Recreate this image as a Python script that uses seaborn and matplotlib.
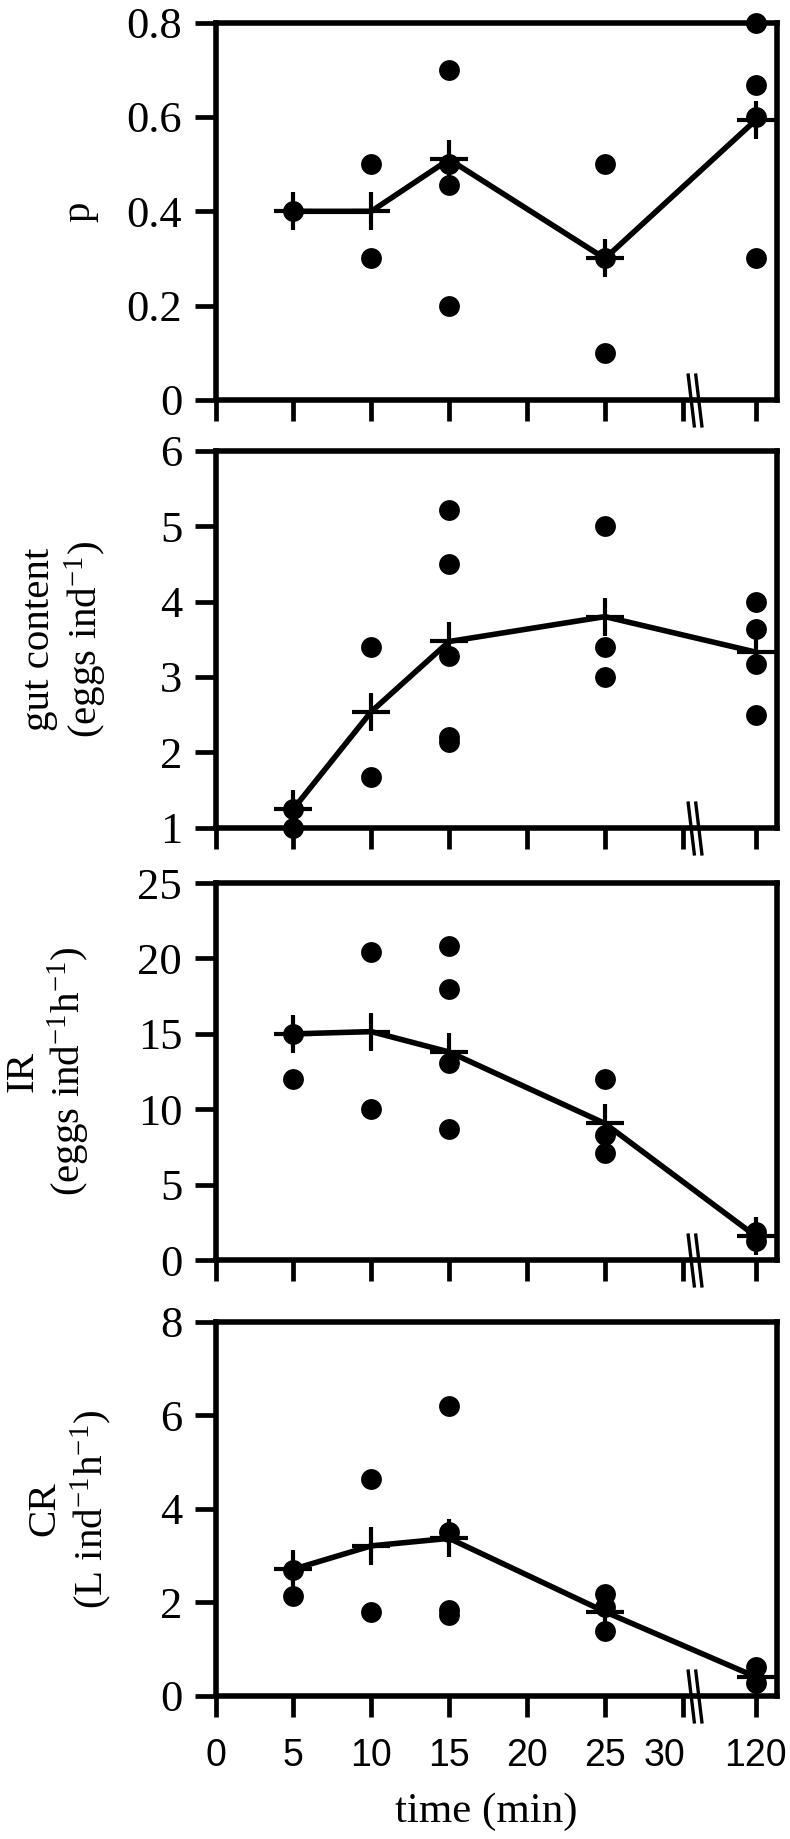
import numpy as np
import pandas as pd
import matplotlib
matplotlib.use("Agg")
import matplotlib.pyplot as plt
import matplotlib.transforms as mtransforms
from matplotlib import font_manager
from matplotlib.path import Path
from matplotlib.markers import MarkerStyle
import seaborn as sns

# ---------------- data ----------------
times = [5, 10, 15, 25, 120]

p_points = [[0.40], [0.50, 0.30], [0.70, 0.50, 0.455, 0.20],
            [0.50, 0.30, 0.10], [0.80, 0.667, 0.60, 0.30]]
p_means = [0.40, 0.40, 0.51, 0.30, 0.593]

gut_points = [[1.25, 1.00], [3.40, 1.67], [5.21, 4.50, 3.28, 2.21, 2.14],
              [5.00, 3.40, 3.00], [4.00, 3.63, 3.17, 2.50]]
gut_means = [1.25, 2.54, 3.47, 3.80, 3.33]

ir_points = [[15.0, 12.0], [20.4, 10.0], [20.8, 18.0, 13.1, 8.7],
             [12.0, 8.3, 7.1], [1.85, 1.25]]
ir_means = [15.0, 15.15, 13.8, 9.06, 1.6]

cr_points = [[2.70, 2.14], [4.64, 1.80], [6.20, 3.51, 1.84, 1.74],
             [2.19, 1.90, 1.39], [0.61, 0.27]]
cr_means = [2.71, 3.21, 3.37, 1.80, 0.41]

xtick_values = [0, 5, 10, 15, 20, 25, 30, 120]
xtick_labels = ["0", "5", "10", "15", "20", "25", "30", "120"]

panel_points = [p_points, gut_points, ir_points, cr_points]
panel_means = [p_means, gut_means, ir_means, cr_means]
ylabels = ["p",
           "gut content\n(eggs ind$^{-1}$)",
           "IR\n(eggs ind$^{-1}$h$^{-1}$)",
           "CR\n(L ind$^{-1}$h$^{-1}$)"]
ylims = [(0, 0.8), (1, 6), (0, 25), (0, 8)]
yticks = [[0, 0.2, 0.4, 0.6, 0.8], [1, 2, 3, 4, 5, 6],
          [0, 5, 10, 15, 20, 25], [0, 2, 4, 6, 8]]
ytick_labels = [["0", "0.2", "0.4", "0.6", "0.8"],
                ["1", "2", "3", "4", "5", "6"],
                ["0", "5", "10", "15", "20", "25"],
                ["0", "2", "4", "6", "8"]]

# ---------------- style ----------------
sns.set_style("ticks")
plt.rcParams["font.family"] = ["Liberation Serif", "DejaVu Serif"]
plt.rcParams["mathtext.fontset"] = "custom"
plt.rcParams["mathtext.rm"] = "Liberation Serif"
plt.rcParams["mathtext.it"] = "Liberation Serif:italic"
plt.rcParams["mathtext.bf"] = "Liberation Serif:bold"
for key in ["text.color", "axes.labelcolor", "xtick.color", "ytick.color", "axes.edgecolor"]:
    plt.rcParams[key] = "black"

installed = {f.name for f in font_manager.fontManager.ttflist}
if "Liberation Sans Narrow" in installed:
    XFONT, XSIZE = "Liberation Sans Narrow", 31
else:
    XFONT, XSIZE = "Liberation Sans", 27

# broken time axis: linear up to 30, compressed beyond
BREAK_LO, BREAK_HI, BREAK_GAP = 30.0, 120.0, 4.67
K = BREAK_GAP / (BREAK_HI - BREAK_LO)


def fwd(t):
    t = np.asarray(t, dtype=float)
    return np.where(t <= BREAK_LO, t, BREAK_LO + (t - BREAK_LO) * K)


def inv(p):
    p = np.asarray(p, dtype=float)
    return np.where(p <= BREAK_LO, p, BREAK_LO + (p - BREAK_LO) / K)


X_MAX = float(inv(36.05))
T_BREAK = float(inv(30.75))

fig = plt.figure(figsize=(7.9, 18.39), dpi=100)
left, width = 0.2728, 0.7108
bottoms = [0.7825, 0.5499, 0.3148, 0.0778]
heights = [0.2052, 0.2050, 0.2050, 0.2034]
ylabel_x = [-0.241, -0.268, -0.298, -0.259]

break_path = Path([(-6, 25), (0, -25), (1, 25), (7, -25)],
                  [Path.MOVETO, Path.LINETO, Path.MOVETO, Path.LINETO])

for i in range(4):
    ax = fig.add_axes([left, bottoms[i], width, heights[i]])
    rows = [(t, v) for t, vals in zip(times, panel_points[i]) for v in vals]
    df = pd.DataFrame(rows, columns=["time", "value"])
    sns.scatterplot(data=df, x="time", y="value", ax=ax, color="black",
                    s=225, linewidth=0, clip_on=False, zorder=3)
    sns.lineplot(x=times, y=panel_means[i], ax=ax, color="black",
                 linewidth=4.0, marker="+", markersize=28,
                 markeredgewidth=3.0, markeredgecolor="black",
                 markerfacecolor="black", errorbar=None, zorder=4,
                 clip_on=False)
    ax.set_xscale("function", functions=(fwd, inv))
    ax.set_xlim(0, X_MAX)
    ax.set_ylim(*ylims[i])
    ax.set_yticks(yticks[i], ytick_labels[i])
    ax.set_xticks(xtick_values, xtick_labels)
    for s in ax.spines.values():
        s.set_visible(True)
        s.set_linewidth(4.0)
        s.set_color("black")
    ax.tick_params(axis="both", which="major", direction="out", length=15,
                   width=3.4, color="black", bottom=True, left=True,
                   top=False, right=False)
    ax.tick_params(axis="both", which="minor", bottom=False, left=False)
    ax.tick_params(axis="y", labelsize=32, pad=9)
    ax.tick_params(axis="x", labelsize=XSIZE, pad=15)
    for lab in ax.get_xticklabels():
        lab.set_fontfamily([XFONT, "Liberation Sans", "DejaVu Sans"])
    ax.set_ylabel(ylabels[i], fontsize=29.5, va="center", ha="center",
                  linespacing=1.15)
    ax.yaxis.set_label_coords(ylabel_x[i], 0.5)
    ax.set_xlabel("")
    # axis break marks
    ax.plot([T_BREAK], [ylims[i][0]], linestyle="none",
            marker=MarkerStyle(break_path), markersize=39,
            markeredgewidth=2.4, markeredgecolor="black",
            markerfacecolor="none", clip_on=False, zorder=6)
    if i < 3:
        ax.tick_params(axis="x", labelbottom=False)
    else:
        labs = ax.get_xticklabels()
        shift = mtransforms.ScaledTranslation(-13 / 72, 0, fig.dpi_scale_trans)
        labs[6].set_transform(labs[6].get_transform() + shift)
        ax.set_xlabel("time (min)", fontsize=31, va="center")
        ax.xaxis.set_label_coords(0.483, -0.31)

fig.savefig("out.png", dpi=100)
